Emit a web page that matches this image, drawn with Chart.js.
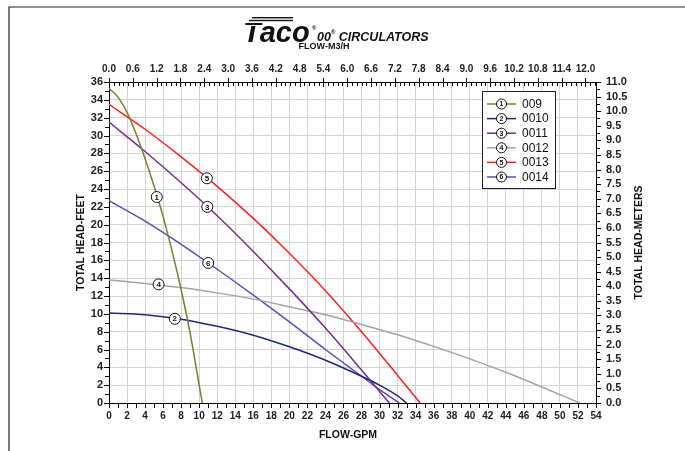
<!DOCTYPE html>
<html><head><meta charset="utf-8">
<script src="https://cdn.jsdelivr.net/npm/chart.js@4.4.0/dist/chart.umd.min.js"></script>
<style>html,body{margin:0;padding:0;background:#fff;}#wrap{width:685px;height:451px;}</style>
</head><body><div id="wrap"><canvas id="c" width="685" height="451"></canvas></div>
<script>
// ---- data ----
const seriesNames = ['009', '0010', '0011', '0012', '0013', '0014'];
const seriesColors = ['#7d7d2e', '#1e2878', '#7d2a8e', '#a3a3a3', '#ff1e1e', '#5c4dbd'];
const flow009 = [0, 1, 2, 3, 4, 5, 6, 7, 8, 9, 10, 10.35];
const head009 = [35.3, 34.3, 32.6, 30.2, 27.4, 24.3, 20.9, 17.0, 12.7, 7.8, 2.0, 0];
const flow0010 = [0, 4, 8, 12, 16, 20, 24, 28, 30, 32, 33];
const head0010 = [10.1, 9.9, 9.4, 8.6, 7.6, 6.3, 4.8, 3.0, 2.0, 0.8, 0];
const flow0011 = [0, 4, 8, 12, 16, 20, 24, 28, 30, 31.1];
const head0011 = [31.5, 28.2, 24.7, 21.0, 17.0, 12.8, 8.4, 3.7, 1.3, 0];
const flow0012 = [0, 4, 8, 12, 16, 20, 24, 28, 32, 36, 40, 44, 48, 52.2];
const head0012 = [13.8, 13.4, 12.95, 12.35, 11.65, 10.8, 9.9, 8.8, 7.65, 6.35, 4.95, 3.45, 1.8, 0];
const flow0013 = [0, 4, 8, 12, 16, 20, 24, 28, 32, 34.5];
const head0013 = [33.5, 30.7, 27.6, 24.3, 20.7, 16.8, 12.6, 8.0, 3.1, 0];
const flow0014 = [0, 4, 8, 12, 16, 20, 24, 28, 30, 32.2];
const head0014 = [22.7, 20.4, 17.8, 15.0, 12.1, 9.1, 6.0, 3.0, 1.5, 0];
const seriesFlow = [flow009, flow0010, flow0011, flow0012, flow0013, flow0014];
const seriesHead = [head009, head0010, head0011, head0012, head0013, head0014];
// circled curve numbers
const markerNums = ['1', '2', '3', '4', '5', '6'];
const markerFlow = [5.3, 7.3, 10.9, 5.5, 10.85, 11.0];
const markerHead = [23.1, 9.45, 22.0, 13.3, 25.2, 15.7];
// tick labels
const gpmTicks = [0,2,4,6,8,10,12,14,16,18,20,22,24,26,28,30,32,34,36,38,40,42,44,46,48,50,52,54];
const ftTicks = [0,2,4,6,8,10,12,14,16,18,20,22,24,26,28,30,32,34,36];
const m3hTicks = [0,0.6,1.2,1.8,2.4,3.0,3.6,4.2,4.8,5.4,6.0,6.6,7.2,7.8,8.4,9.0,9.6,10.2,10.8,11.4,12.0];
const meterTicks = [0,0.5,1,1.5,2,2.5,3,3.5,4,4.5,5,5.5,6,6.5,7,7.5,8,8.5,9,9.5,10,10.5,11];
const GPM_MAX = 54, FT_MAX = 36, M_MAX = 11, M3H_MAX = 54 * 0.2271247;

const FF = "'Liberation Sans', Arial, Helvetica, sans-serif";

const datasets = seriesNames.map((n, i) => ({
  label: n,
  data: seriesFlow[i].map((f, j) => ({x: f, y: seriesHead[i][j]})),
  borderColor: seriesColors[i],
  backgroundColor: seriesColors[i],
  borderWidth: 1.5,
  pointRadius: 0,
  cubicInterpolationMode: 'monotone',
  fill: false,
  xAxisID: 'x', yAxisID: 'y'
}));

function circled(ctx, x, y, r, txt, fs) {
  ctx.beginPath();
  ctx.arc(x, y, r, 0, Math.PI * 2);
  ctx.fillStyle = '#fff'; ctx.fill();
  ctx.lineWidth = 1; ctx.strokeStyle = '#111'; ctx.stroke();
  ctx.fillStyle = '#111';
  ctx.font = 'bold ' + fs + 'px ' + FF;
  ctx.textAlign = 'center'; ctx.textBaseline = 'middle';
  ctx.fillText(txt, x, y + 0.5);
}

const decor = {
  id: 'decor',
  beforeDraw(chart) {
    const c = chart.ctx;
    c.save(); c.fillStyle = '#fff'; c.fillRect(0, 0, chart.width, chart.height); c.restore();
  },
  afterDatasetsDraw(chart) {
    const c = chart.ctx, sx = chart.scales.x, sy = chart.scales.y;
    c.save();
    markerNums.forEach((t, i) => {
      circled(c, sx.getPixelForValue(markerFlow[i]), sy.getPixelForValue(markerHead[i]), 5.5, t, 8);
    });
    c.restore();
  },
  afterDraw(chart) {
    const c = chart.ctx, a = chart.chartArea;
    const sx = chart.scales.x, sy = chart.scales.y, sx2 = chart.scales.x2, sy2 = chart.scales.y2;
    c.save();
    c.strokeStyle = '#000'; c.lineWidth = 1;
    c.beginPath();
    for (let v = 0; v <= GPM_MAX; v++) {
      const x = Math.round(sx.getPixelForValue(v)) + 0.5;
      c.moveTo(x, a.bottom); c.lineTo(x, a.bottom + 5);
    }
    for (let v = 0; v <= FT_MAX; v++) {
      const y = Math.round(sy.getPixelForValue(v)) + 0.5;
      c.moveTo(a.left, y); c.lineTo(a.left - (v % 2 ? 4 : 5), y);
    }
    for (let k = 0; k <= M_MAX * 4; k++) {
      const y = Math.round(sy2.getPixelForValue(k / 4)) + 0.5;
      c.moveTo(a.right, y); c.lineTo(a.right + (k % 2 ? 4 : 5), y);
    }
    for (let k = 0; k * 0.12 <= M3H_MAX + 1e-9; k++) {
      const x = Math.round(sx2.getPixelForValue(k * 0.12)) + 0.5;
      if (k % 5 === 0) { c.moveTo(x, a.top - 4); c.lineTo(x, a.top + 5); }
      else { c.moveTo(x, a.top); c.lineTo(x, a.top + 4); }
    }
    c.stroke();

    // axis titles
    c.fillStyle = '#111';
    c.font = 'bold 10.5px ' + FF;
    c.textAlign = 'center'; c.textBaseline = 'middle';
    const midY = (a.top + a.bottom) / 2;
    c.save(); c.translate(81, midY); c.rotate(-Math.PI / 2); c.fillText('TOTAL HEAD-FEET', 0, 0); c.restore();
    c.save(); c.translate(639, midY); c.rotate(-Math.PI / 2); c.fillText('TOTAL HEAD-METERS', 0, 0); c.restore();
    c.fillText('FLOW-GPM', 348, 435);
    c.font = 'bold 9px ' + FF;
    c.fillText('FLOW-M3/H', 324, 47);

    // header logo + title
    c.textAlign = 'left'; c.textBaseline = 'alphabetic';
    c.font = 'italic bold 29px ' + FF;
    c.fillText('Taco', 243, 42);
    c.strokeStyle = '#fff'; c.lineWidth = 1;
    c.beginPath();
    [22.5, 25.5].forEach(y => { c.moveTo(243, y); c.lineTo(268, y); });
    c.stroke();
    c.fillStyle = '#111';
    c.fillRect(252, 17, 41, 1.4);
    c.fillRect(249, 19.8, 44, 1.4);
    c.font = 'bold 6px ' + FF;
    c.fillText('®', 312, 30);
    c.font = 'italic bold 12.5px ' + FF;
    c.fillText('00', 317, 41);
    let w = c.measureText('00').width;
    c.font = 'bold 6px ' + FF;
    c.fillText('®', 317 + w, 34);
    const w2 = c.measureText('®').width;
    c.font = 'italic bold 12.5px ' + FF;
    c.fillText(' CIRCULATORS', 317 + w + w2, 41);

    // legend
    const lx = 482.5, ly = 91.5, lw = 73, lh = 97;
    c.fillStyle = '#fff'; c.fillRect(lx, ly, lw, lh);
    c.strokeStyle = '#222'; c.lineWidth = 1; c.strokeRect(lx, ly, lw, lh);
    seriesNames.forEach((n, i) => {
      const yy = 104 + i * 14.6;
      c.strokeStyle = seriesColors[i]; c.lineWidth = 1.5;
      c.beginPath(); c.moveTo(487, yy); c.lineTo(516, yy); c.stroke();
      circled(c, 501.5, yy, 5, markerNums[i], 7);
      c.fillStyle = '#111'; c.font = '12px ' + FF;
      c.textAlign = 'left'; c.textBaseline = 'middle';
      c.fillText(n, 522, yy + 0.5);
    });

    // page frame
    c.strokeStyle = '#222'; c.lineWidth = 1.2;
    c.beginPath(); c.moveTo(9, 451); c.lineTo(9, 7); c.lineTo(685, 7); c.stroke();
    c.restore();
  }
};

const tickFont = (s) => ({family: FF, size: s, weight: 'bold'});

new Chart(document.getElementById('c'), {
  type: 'line',
  data: {datasets},
  options: {
    responsive: false, animation: false, devicePixelRatio: 1,
    layout: {padding: 0},
    plugins: {legend: {display: false}, tooltip: {enabled: false}},
    scales: {
      x: {
        type: 'linear', position: 'bottom', min: 0, max: GPM_MAX,
        afterBuildTicks: s => { s.ticks = gpmTicks.map(v => ({value: v})); },
        afterFit: s => { s.height = 48; },
        ticks: {font: tickFont(10), color: '#222', padding: 7, maxRotation: 0, autoSkip: false, callback: v => String(v)},
        grid: {color: '#d4d4d4', lineWidth: 1, drawTicks: false},
        border: {display: true, color: '#000', width: 1}
      },
      y: {
        type: 'linear', position: 'left', min: 0, max: FT_MAX,
        afterBuildTicks: s => { s.ticks = ftTicks.map(v => ({value: v})); },
        afterFit: s => { s.width = 109; },
        ticks: {font: tickFont(11), color: '#222', padding: 6, autoSkip: false, callback: v => String(v)},
        grid: {color: '#d4d4d4', lineWidth: 1, drawTicks: false},
        border: {display: true, color: '#000', width: 1}
      },
      x2: {
        type: 'linear', position: 'top', min: 0, max: M3H_MAX,
        afterBuildTicks: s => { s.ticks = m3hTicks.map(v => ({value: v})); },
        afterFit: s => { s.height = 82; },
        ticks: {font: tickFont(10), color: '#222', padding: 7, maxRotation: 0, autoSkip: false, callback: v => v.toFixed(1)},
        grid: {display: false, drawTicks: false},
        border: {display: true, color: '#000', width: 1}
      },
      y2: {
        type: 'linear', position: 'right', min: 0, max: M_MAX,
        afterBuildTicks: s => { s.ticks = meterTicks.map(v => ({value: v})); },
        afterFit: s => { s.width = 89; },
        ticks: {font: tickFont(11), color: '#222', padding: 10, autoSkip: false, callback: v => v.toFixed(1)},
        grid: {display: false, drawTicks: false},
        border: {display: true, color: '#000', width: 1}
      }
    }
  },
  plugins: [decor]
});
</script>
</body></html>
